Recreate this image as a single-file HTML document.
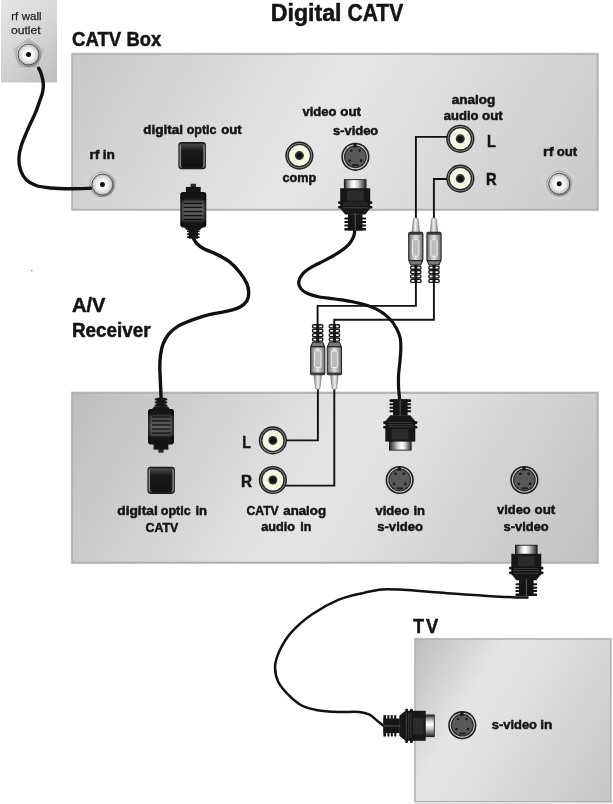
<!DOCTYPE html>
<html><head><meta charset="utf-8">
<style>
html,body{margin:0;padding:0;background:#fff;}
body{width:613px;height:804px;overflow:hidden;}
svg{display:block;will-change:transform;}
text{font-family:"Liberation Sans",sans-serif;fill:#141414;}
.b{font-weight:bold;stroke:#141414;stroke-width:0.5px;stroke-linejoin:round;}
.r text,text.r{fill:#222;stroke:#222;stroke-width:0.25px;}
</style></head><body>
<svg width="613" height="804" viewBox="0 0 613 804">
<defs>
<linearGradient id="gBox" gradientUnits="userSpaceOnUse" x1="71" y1="53" x2="533.5" y2="320">
<stop offset="0" stop-color="#c7c7c7"/><stop offset="0.44" stop-color="#e5e5e5"/><stop offset="0.5" stop-color="#e5e5e5"/><stop offset="1" stop-color="#c8c8c8"/>
</linearGradient>
<linearGradient id="gBox2" gradientUnits="userSpaceOnUse" x1="71" y1="392" x2="533.5" y2="659">
<stop offset="0" stop-color="#bdbdbd"/><stop offset="0.46" stop-color="#e4e4e4"/><stop offset="0.54" stop-color="#e4e4e4"/><stop offset="1" stop-color="#c1c1c1"/>
</linearGradient>
<linearGradient id="gTV" gradientUnits="userSpaceOnUse" x1="414" y1="638" x2="630.8" y2="768.3">
<stop offset="0" stop-color="#bcbcbc"/><stop offset="0.31" stop-color="#e4e4e4"/><stop offset="0.39" stop-color="#e4e4e4"/><stop offset="1" stop-color="#c6c6c6"/>
</linearGradient>
<linearGradient id="gWall" gradientUnits="userSpaceOnUse" x1="1" y1="0" x2="62" y2="72">
<stop offset="0" stop-color="#e6e6e6"/><stop offset="0.5" stop-color="#d6d6d6"/><stop offset="1" stop-color="#c0c0c0"/>
</linearGradient>
<linearGradient id="gMetalH" x1="0" y1="0" x2="1" y2="0">
<stop offset="0" stop-color="#2e2e2e"/><stop offset="0.14" stop-color="#8a8a8a"/><stop offset="0.32" stop-color="#e8e8e8"/><stop offset="0.45" stop-color="#ffffff"/><stop offset="0.62" stop-color="#d0d0d0"/><stop offset="0.85" stop-color="#6c6c6c"/><stop offset="1" stop-color="#2a2a2a"/>
</linearGradient>
<linearGradient id="gRcaBody" x1="0" y1="0" x2="1" y2="0">
<stop offset="0" stop-color="#6a6a6a"/><stop offset="0.22" stop-color="#a8a8a8"/><stop offset="0.5" stop-color="#e2e2e2"/><stop offset="0.78" stop-color="#a4a4a4"/><stop offset="1" stop-color="#666"/>
</linearGradient>
<linearGradient id="gRcaTip" x1="0" y1="0" x2="1" y2="0">
<stop offset="0" stop-color="#8a8a8a"/><stop offset="0.45" stop-color="#f2f2f2"/><stop offset="1" stop-color="#8a8a8a"/>
</linearGradient>
<radialGradient id="gRf" cx="0.5" cy="0.5" r="0.5">
<stop offset="0" stop-color="#ffffff"/><stop offset="0.5" stop-color="#f6f6f6"/><stop offset="0.82" stop-color="#d4d4d4"/><stop offset="1" stop-color="#ababab"/>
</radialGradient>
<linearGradient id="gRfRing" x1="0.15" y1="0.1" x2="0.85" y2="0.9">
<stop offset="0" stop-color="#ebebeb"/><stop offset="0.45" stop-color="#b4b4b4"/><stop offset="1" stop-color="#868686"/>
</linearGradient>
<linearGradient id="gOJh" x1="0" y1="0" x2="1" y2="0">
<stop offset="0" stop-color="#b4b4b4"/><stop offset="0.06" stop-color="#5a5a5a"/><stop offset="0.12" stop-color="#1c1c1c"/><stop offset="0.88" stop-color="#1c1c1c"/><stop offset="0.94" stop-color="#5a5a5a"/><stop offset="1" stop-color="#b4b4b4"/>
</linearGradient>
<linearGradient id="gOJv" x1="0" y1="0" x2="0" y2="1">
<stop offset="0" stop-color="#4a4a4a"/><stop offset="0.12" stop-color="#383838"/><stop offset="0.3" stop-color="#1a1a1a"/><stop offset="1" stop-color="#121212"/>
</linearGradient>
<filter id="blur2" x="-20%" y="-20%" width="140%" height="140%"><feGaussianBlur stdDeviation="1.1"/></filter>
<filter id="blur1" x="-20%" y="-20%" width="140%" height="140%"><feGaussianBlur stdDeviation="0.7"/></filter>
<linearGradient id="gOptV" x1="0" y1="0" x2="0" y2="1">
<stop offset="0" stop-color="#141414"/><stop offset="0.2" stop-color="#1b1b1b"/><stop offset="0.27" stop-color="#505050"/><stop offset="0.5" stop-color="#6c6c6c"/><stop offset="0.78" stop-color="#525252"/><stop offset="0.86" stop-color="#1c1c1c"/><stop offset="1" stop-color="#141414"/>
</linearGradient>
<linearGradient id="gOptH" x1="0" y1="0" x2="1" y2="0">
<stop offset="0" stop-color="#000" stop-opacity="0.75"/><stop offset="0.14" stop-color="#000" stop-opacity="0.1"/><stop offset="0.86" stop-color="#000" stop-opacity="0.1"/><stop offset="1" stop-color="#000" stop-opacity="0.75"/>
</linearGradient>

<pattern id="pDots" width="1.6" height="1.6" patternUnits="userSpaceOnUse">
<rect width="1.6" height="1.6" fill="#dcdcdc"/><rect width="0.8" height="0.8" fill="#9c9c9c"/><rect x="0.8" y="0.8" width="0.8" height="0.8" fill="#9c9c9c"/>
</pattern>
<!-- RCA jack, centred 0,0 r=14 -->
<g id="rcaJack">
<circle r="14.1" fill="#222"/>
<circle r="12.7" fill="#909090"/>
<circle r="11.9" fill="#2a2a2a"/>
<circle r="10.5" fill="#f4f6e2"/>
<circle r="4.5" fill="#363636"/>
<circle r="2.9" fill="#111"/>
</g>
<!-- S-video jack, centred 0,0 r=14.5 -->
<g id="svJack">
<circle r="14.1" fill="#202020"/>
<circle r="12.5" fill="#cecece"/>
<circle r="11.4" fill="#2a2a2a"/>
<circle r="10.3" fill="#595959"/>
<rect x="-2.1" y="-13.4" width="3.4" height="4.2" fill="#1c1c1c"/>
<circle cx="-4.1" cy="-6.2" r="1.35" fill="#1c1c1c"/><circle cx="4.1" cy="-6.2" r="1.35" fill="#1c1c1c"/>
<circle cx="-5.7" cy="3.9" r="1.35" fill="#1c1c1c"/><circle cx="5.7" cy="3.9" r="1.35" fill="#1c1c1c"/>
<rect x="-3.2" y="7.4" width="6.6" height="1.9" fill="#1e1e1e"/>
<rect x="-7.6" y="7.4" width="1.6" height="1.4" fill="#2a2a2a"/><rect x="6" y="7.6" width="1.6" height="1.4" fill="#2a2a2a"/>
</g>
<!-- RF connector -->
<g id="rfCore">
<circle r="12.4" fill="url(#gRfRing)"/>
<circle r="12.4" fill="none" stroke="#8e8e8e" stroke-width="0.6"/>
<circle r="10.5" fill="url(#gRf)" stroke="#4a4a4a" stroke-width="0.9"/>
<circle r="2.5" fill="#111"/>
</g>
<g id="rfConn">
<polygon points="0,-17 16.2,-5.3 10,13.8 -10,13.8 -16.2,-5.3" fill="#b2b2b2" fill-opacity="0.7" stroke="#d8d8d8" stroke-opacity="0.6" stroke-width="1.2" stroke-linejoin="round" filter="url(#blur1)"/>
<use href="#rfCore"/>
</g>
<g id="rfConnBox">
<polygon points="0,-17 16.2,-5.3 10,13.8 -10,13.8 -16.2,-5.3" fill="#bcbcbc" fill-opacity="0.28" stroke="#e8e8e8" stroke-opacity="0.5" stroke-width="1.2" stroke-linejoin="round" filter="url(#blur2)"/>
<use href="#rfCore"/>
</g>
<!-- Optical jack 27.5 square top-left 0,0 -->
<g id="optJack">
<rect x="0" y="0" width="27.5" height="27.2" rx="3.3" fill="#1b1b1b"/>
<rect x="1.3" y="1.3" width="24.9" height="24.6" rx="2.6" fill="url(#gOJh)"/>
<rect x="2.7" y="1.6" width="22.1" height="23.6" rx="1.8" fill="url(#gOJv)"/>
</g>
<!-- RCA plug pointing up: tip top at y=0, centred x=0; length 65.1 -->
<g id="rcaPlug">
<path d="M-2.3,1.6 Q-2.3,0 0,0 Q2.3,0 2.3,1.6 L3.9,15 L-3.9,15 Z" fill="url(#gRcaTip)" stroke="#6a6a6a" stroke-width="0.6"/>
<rect x="-7.1" y="14.6" width="14.2" height="28.2" rx="1.3" fill="url(#gRcaBody)" stroke="#2a2a2a" stroke-width="1.1"/>
<rect x="-6.8" y="14.6" width="13.6" height="2.4" rx="0.8" fill="#3a3a3a"/>
<rect x="-3.2" y="21.9" width="6.3" height="16.5" rx="1.6" fill="url(#pDots)" stroke="#f2f2f2" stroke-width="0.9"/>
<path d="M-6.9,42.8 L6.9,42.8 L4.9,47.2 L-4.9,47.2 Z" fill="#7c7c7c" stroke="#2a2a2a" stroke-width="1.1" stroke-linejoin="round"/>
<g fill="#fafafa" stroke="#161616" stroke-width="1.35">
<rect x="-5.2" y="48.3" width="10.4" height="3.1" rx="1.5"/>
<rect x="-5.2" y="52.7" width="10.4" height="3.1" rx="1.5"/>
<rect x="-5.2" y="57.1" width="10.4" height="3.1" rx="1.5"/>
<rect x="-5.2" y="61.5" width="10.4" height="3.1" rx="1.5"/>
</g>
<rect x="-1.5" y="47" width="3" height="18.1" fill="#161616"/>
</g>
<!-- S-video plug pointing up: metal tip top at y=0, centred x=0, length 51.3 -->
<g id="svPlug">
<rect x="-11.3" y="0" width="22.6" height="10" fill="#1c1c1c"/>
<rect x="-10.5" y="0.9" width="21" height="9" fill="url(#gMetalH)"/>
<rect x="-15" y="9" width="30" height="20.5" fill="#171717"/>
<rect x="-8.2" y="11.2" width="16.8" height="10.4" fill="#2b2b2b"/>
<rect x="-17.1" y="22" width="34.2" height="2.7" rx="0.8" fill="#141414"/>
<rect x="-17.1" y="26.7" width="34.2" height="2.7" rx="0.8" fill="#141414"/>
<rect x="-12.5" y="23.4" width="25" height="0.7" fill="#4a4a4a"/>
<rect x="-12.5" y="25.5" width="25" height="0.7" fill="#4a4a4a"/>
<rect x="-12.5" y="28" width="25" height="0.7" fill="#4a4a4a"/>
<rect x="-9" y="30.3" width="18" height="0.7" fill="#444"/>
<path d="M-15,29.3 L15,29.3 L10,35.4 L-10,35.4 Z" fill="#171717"/>
<rect x="-7.3" y="35" width="14.6" height="16.3" fill="#151515"/>
<g fill="#151515">
<rect x="-10.8" y="38.4" width="21.6" height="2" rx="0.6"/>
<rect x="-10.8" y="41.9" width="21.6" height="2" rx="0.6"/>
<rect x="-10.8" y="45.3" width="21.6" height="2" rx="0.6"/>
<rect x="-10.8" y="48.7" width="21.6" height="2.6" rx="0.6"/>
</g>
<rect x="-0.5" y="34" width="1.2" height="17.3" fill="#4d4d4d"/>
</g>
<!-- Optical plug pointing up: nub top at y=0 centred x=0, length 54.9 -->
<g id="optPlug">
<rect x="-2.7" y="0" width="5.4" height="3.8" rx="0.6" fill="#2c2c2c"/>
<rect x="-7.4" y="3.1" width="14.8" height="6" fill="#161616"/>
<rect x="-12.9" y="8.3" width="25.8" height="35.3" rx="2.8" fill="url(#gOptV)"/>
<rect x="-12.9" y="8.3" width="25.8" height="35.3" rx="2.8" fill="url(#gOptH)"/>
<g fill="#0e0e0e">
<rect x="-9.4" y="19" width="18.4" height="1.25"/>
<rect x="-9.4" y="23" width="18.4" height="1.25"/>
<rect x="-9.4" y="27.1" width="18.4" height="1.25"/>
<rect x="-9.4" y="31.2" width="18.4" height="1.25"/>
<rect x="-9.4" y="35.1" width="18.4" height="1.25"/>
</g>
<path d="M-9.5,43.2 L9.5,43.2 L6.4,46.4 L-6.4,46.4 Z" fill="#161616"/>
<rect x="-4.6" y="46" width="9.2" height="8.9" fill="#161616"/>
<g fill="#161616">
<rect x="-6.3" y="46.6" width="12.6" height="1.7" rx="0.5"/>
<rect x="-6.3" y="49.5" width="12.6" height="1.7" rx="0.5"/>
<rect x="-6.3" y="52.4" width="12.6" height="1.9" rx="0.5"/>
</g>
</g>
</defs>

<rect width="613" height="804" fill="#fff"/>

<!-- wall outlet -->
<rect x="1" y="0" width="56" height="82.5" fill="url(#gWall)"/>
<!-- CATV box -->
<rect x="70.9" y="52.6" width="528" height="158.4" fill="#d3d3d3"/>
<rect x="71.5" y="53.3" width="526.9" height="157.2" fill="#b3b3b3"/>
<rect x="73" y="55" width="523.6" height="153.8" fill="url(#gBox)"/>
<!-- Receiver box -->
<rect x="70.8" y="391.5" width="528.1" height="172.5" fill="#d0d0d0"/>
<rect x="71.4" y="392.2" width="527" height="171.3" fill="#b0b0b0"/>
<rect x="72.9" y="393.9" width="523.9" height="167.8" fill="url(#gBox2)"/>
<!-- TV box -->
<rect x="413.9" y="637.9" width="197.9" height="164.6" fill="#cfcfcf"/>
<rect x="414.7" y="638.5" width="196.6" height="163.6" fill="#adadad"/>
<rect x="415.8" y="639.7" width="194.4" height="161.3" fill="url(#gTV)"/>
<rect x="414.5" y="802.5" width="197.3" height="1.5" fill="#e6e6e6"/>

<!-- tiny dot -->
<rect x="31" y="270" width="1.4" height="1.4" fill="#999"/>

<!-- TEXT -->
<g class="b">
<text x="270.70" y="20.7" font-size="23.0" textLength="70.86" lengthAdjust="spacingAndGlyphs">Digital</text>
<text x="347.49" y="20.7" font-size="23.0" textLength="55.76" lengthAdjust="spacingAndGlyphs">CATV</text>
<text x="71.99" y="45.7" font-size="19.9" textLength="49.26" lengthAdjust="spacingAndGlyphs">CATV</text>
<text x="126.48" y="45.7" font-size="19.9" textLength="34.77" lengthAdjust="spacingAndGlyphs">Box</text>
<text x="72.00" y="311.8" font-size="19.6" textLength="33.50" lengthAdjust="spacingAndGlyphs">A/V</text>
<text x="71.98" y="336.7" font-size="19.4" textLength="78.52" lengthAdjust="spacingAndGlyphs">Receiver</text>
<text x="413.25" y="632.8" font-size="19.7" textLength="10.75" lengthAdjust="spacingAndGlyphs">T</text>
<text x="426.00" y="632.8" font-size="19.7" textLength="12.26" lengthAdjust="spacingAndGlyphs">V</text>
<text x="143.24" y="134.2" font-size="12.8" textLength="39.78" lengthAdjust="spacingAndGlyphs">digital</text>
<text x="186.74" y="134.2" font-size="12.8" textLength="29.76" lengthAdjust="spacingAndGlyphs">optic</text>
<text x="221.25" y="134.2" font-size="12.8" textLength="20.50" lengthAdjust="spacingAndGlyphs">out</text>
<text x="89.47" y="159.1" font-size="12.8" textLength="10.02" lengthAdjust="spacingAndGlyphs">rf</text>
<text x="102.67" y="159.1" font-size="12.8" textLength="12.17" lengthAdjust="spacingAndGlyphs">in</text>
<text x="302.50" y="116.2" font-size="12.8" textLength="34.00" lengthAdjust="spacingAndGlyphs">video</text>
<text x="340.25" y="116.2" font-size="12.8" textLength="20.75" lengthAdjust="spacingAndGlyphs">out</text>
<text x="333.00" y="135.1" font-size="12.8" textLength="45.26" lengthAdjust="spacingAndGlyphs">s-video</text>
<text x="282.50" y="181.8" font-size="12.8" textLength="33.76" lengthAdjust="spacingAndGlyphs">comp</text>
<text x="451.75" y="104" font-size="12.8" textLength="43.52" lengthAdjust="spacingAndGlyphs">analog</text>
<text x="443.75" y="120.2" font-size="12.8" textLength="34.75" lengthAdjust="spacingAndGlyphs">audio</text>
<text x="482.00" y="120.2" font-size="12.8" textLength="20.75" lengthAdjust="spacingAndGlyphs">out</text>
<text x="486.92" y="147" font-size="16.6" textLength="8.86" lengthAdjust="spacingAndGlyphs">L</text>
<text x="485.93" y="184.8" font-size="16.6" textLength="10.59" lengthAdjust="spacingAndGlyphs">R</text>
<text x="542.98" y="156.1" font-size="12.8" textLength="10.52" lengthAdjust="spacingAndGlyphs">rf</text>
<text x="556.75" y="156.1" font-size="12.8" textLength="20.50" lengthAdjust="spacingAndGlyphs">out</text>
<text x="117.24" y="514.6" font-size="12.8" textLength="40.53" lengthAdjust="spacingAndGlyphs">digital</text>
<text x="160.75" y="514.6" font-size="12.8" textLength="30.01" lengthAdjust="spacingAndGlyphs">optic</text>
<text x="195.41" y="514.6" font-size="12.8" textLength="11.64" lengthAdjust="spacingAndGlyphs">in</text>
<text x="145.50" y="531.8" font-size="12.8" textLength="32.75" lengthAdjust="spacingAndGlyphs">CATV</text>
<text x="242.18" y="448.2" font-size="15.6" textLength="8.62" lengthAdjust="spacingAndGlyphs">L</text>
<text x="240.94" y="486.9" font-size="15.6" textLength="11.06" lengthAdjust="spacingAndGlyphs">R</text>
<text x="246.50" y="514.5" font-size="12.8" textLength="32.25" lengthAdjust="spacingAndGlyphs">CATV</text>
<text x="283.25" y="514.5" font-size="12.8" textLength="42.77" lengthAdjust="spacingAndGlyphs">analog</text>
<text x="261.25" y="530.9" font-size="12.8" textLength="33.76" lengthAdjust="spacingAndGlyphs">audio</text>
<text x="300.17" y="530.9" font-size="12.8" textLength="11.15" lengthAdjust="spacingAndGlyphs">in</text>
<text x="375.50" y="514.7" font-size="12.8" textLength="34.00" lengthAdjust="spacingAndGlyphs">video</text>
<text x="413.44" y="514.7" font-size="12.8" textLength="11.61" lengthAdjust="spacingAndGlyphs">in</text>
<text x="377.25" y="531.2" font-size="12.8" textLength="45.76" lengthAdjust="spacingAndGlyphs">s-video</text>
<text x="497.00" y="514.4" font-size="12.8" textLength="33.75" lengthAdjust="spacingAndGlyphs">video</text>
<text x="534.49" y="514.4" font-size="12.8" textLength="20.75" lengthAdjust="spacingAndGlyphs">out</text>
<text x="503.50" y="531.1" font-size="12.8" textLength="45.26" lengthAdjust="spacingAndGlyphs">s-video</text>
<text x="491.75" y="729" font-size="12.8" textLength="45.26" lengthAdjust="spacingAndGlyphs">s-video</text>
<text x="540.18" y="729" font-size="12.8" textLength="12.14" lengthAdjust="spacingAndGlyphs">in</text>
</g>
<g class="r">
<text x="11.18" y="19.7" font-size="11.8" textLength="6.82" lengthAdjust="spacingAndGlyphs">rf</text>
<text x="21.75" y="19.7" font-size="11.8" textLength="19.77" lengthAdjust="spacingAndGlyphs">wall</text>
<text x="10.99" y="34.0" font-size="11.8" textLength="29.51" lengthAdjust="spacingAndGlyphs">outlet</text>
</g>

<!-- JACKS -->
<use href="#rfConn" transform="translate(28.5,54.5)"/>
<use href="#rfConnBox" transform="translate(102.4,184.6)"/>
<use href="#rfConnBox" transform="translate(559.2,183.8)"/>
<use href="#optJack" transform="translate(178.4,142.1)"/>
<use href="#optJack" transform="translate(147.4,466.7)"/>
<use href="#rcaJack" transform="translate(299.4,155.6)"/>
<use href="#svJack" transform="translate(355.4,156.8)"/>
<use href="#rcaJack" transform="translate(460.3,138.8)"/>
<use href="#rcaJack" transform="translate(460.3,178.6)"/>
<use href="#rcaJack" transform="translate(272.9,440.4)"/>
<use href="#rcaJack" transform="translate(272.9,480)"/>
<use href="#svJack" transform="translate(399.7,480)"/>
<use href="#svJack" transform="translate(524.4,480)"/>
<use href="#svJack" transform="translate(462.3,725.2)"/>

<!-- CABLES -->
<g fill="none" stroke="#111" stroke-linecap="round" stroke-linejoin="miter">
<!-- coax -->
<path d="M38.6,68.2 C38.9,68.8 39.9,70.0 40.6,72.0 C41.3,74.0 42.3,77.5 42.8,80.0 C43.2,82.5 43.4,84.8 43.3,87.0 C43.2,89.2 42.9,90.8 42.4,93.0 C41.9,95.2 41.1,97.0 40.0,100.0 C38.9,103.0 38.0,106.4 36.0,111.3 C34.0,116.2 30.2,123.6 27.8,129.3 C25.4,135.0 22.8,140.7 21.3,145.6 C19.8,150.5 19.0,154.5 18.9,158.6 C18.8,162.7 19.3,166.5 20.5,170.0 C21.7,173.5 23.6,177.2 26.2,179.8 C28.8,182.4 31.9,184.1 36.0,185.5 C40.1,186.9 45.0,187.4 50.7,188.0 C56.4,188.6 63.7,188.8 70.3,188.8 C76.9,188.9 87.1,188.4 90.5,188.3" stroke-width="3.4"/>
<!-- optical -->
<path d="M193.6,238.6 C194.1,239.4 195.0,241.8 196.7,243.5 C198.4,245.2 200.5,247.0 203.8,248.8 C207.1,250.6 212.2,252.1 216.4,254.2 C220.6,256.3 225.1,258.4 229.0,261.4 C232.9,264.4 236.7,268.5 239.7,272.2 C242.7,275.9 245.4,280.4 246.9,283.8 C248.4,287.2 248.7,290.0 248.7,292.8 C248.7,295.6 248.4,298.5 246.9,300.9 C245.4,303.3 243.0,305.5 239.7,307.2 C236.4,308.9 232.3,309.9 227.2,311.1 C222.1,312.4 214.9,313.3 209.2,314.7 C203.5,316.1 198.2,317.8 193.1,319.7 C188.0,321.6 182.5,323.5 178.5,325.9 C174.5,328.3 171.5,330.8 168.9,333.9 C166.3,336.9 164.4,340.6 163.0,344.2 C161.6,347.8 161.0,351.4 160.5,355.2 C160.0,359.0 159.8,362.6 159.8,367.0 C159.8,371.4 160.2,376.4 160.4,381.7 C160.6,386.9 161.0,395.7 161.1,398.5" stroke-width="3.4"/>
<!-- s-video 1 -->
<path d="M354.8,230.0 C354.6,231.1 354.6,234.3 353.6,236.7 C352.6,239.1 351.1,242.0 348.7,244.6 C346.2,247.2 342.8,249.8 338.9,252.4 C335.0,255.0 329.8,257.8 325.2,260.2 C320.6,262.6 315.2,264.8 311.5,267.1 C307.8,269.4 304.8,271.4 302.7,273.9 C300.6,276.3 299.1,279.4 298.8,281.8 C298.5,284.2 299.3,286.7 300.8,288.6 C302.3,290.6 304.5,292.1 307.6,293.5 C310.7,294.9 314.8,296.1 319.4,297.0 C324.0,297.9 329.5,298.2 335.0,299.0 C340.5,299.8 347.1,300.6 352.6,301.7 C358.2,302.8 363.7,304.1 368.3,305.7 C372.9,307.3 376.5,308.9 380.1,311.1 C383.7,313.3 387.1,316.1 389.9,319.0 C392.7,321.9 395.0,325.6 396.7,328.8 C398.4,332.0 399.5,334.7 400.2,338.0 C400.9,341.3 400.9,344.7 400.8,348.7 C400.8,352.7 400.3,357.4 399.9,361.8 C399.5,366.2 398.8,370.5 398.6,374.8 C398.4,379.1 398.4,383.7 398.6,387.9 C398.8,392.1 399.6,398.0 399.8,400.0" stroke-width="3.2"/>
<!-- s-video 2 -->
<path d="M527.5,597.6 C525.6,597.6 519.9,597.5 516.0,597.4 C512.1,597.3 510.7,597.2 504.4,596.9 C498.1,596.5 487.0,595.9 478.3,595.3 C469.6,594.7 460.9,594.1 452.2,593.5 C443.5,592.9 434.7,592.0 426.0,591.4 C417.3,590.8 407.3,589.9 400.0,589.6 C392.7,589.3 387.9,588.9 382.0,589.4 C376.1,589.9 371.7,591.0 364.4,592.7 C357.1,594.4 347.0,596.2 338.3,599.8 C329.6,603.4 320.0,608.8 312.2,614.2 C304.4,619.6 296.7,626.3 291.3,632.4 C285.9,638.5 282.3,645.0 279.6,650.7 C276.9,656.4 275.3,661.2 275.1,666.4 C274.9,671.6 276.0,677.2 278.3,682.0 C280.6,686.8 284.8,691.2 288.7,695.1 C292.6,699.0 297.0,703.0 301.8,705.5 C306.6,708.0 311.3,709.1 317.4,710.2 C323.5,711.3 331.3,711.7 338.3,712.0 C345.3,712.3 354.0,711.5 359.2,712.0 C364.4,712.5 366.8,713.4 369.6,714.7 C372.4,716.0 373.9,718.0 376.2,719.9 C378.5,721.8 382.3,724.8 383.5,725.8" stroke-width="2.5"/>
<!-- RCA wires -->
<g stroke-width="1.9" stroke-linecap="butt">
<path d="M447,136.9 L415.9,136.9 L415.9,219"/>
<path d="M447,179 L433.9,179 L433.9,219"/>
<path d="M415.9,282 L415.9,305.9 L317.6,305.9 L317.6,325"/>
<path d="M433.9,282 L433.9,319.7 L334.3,319.7 L334.3,325"/>
<path d="M317.9,388 L317.9,440.4 L286,440.4"/>
<path d="M334.3,388 L334.3,485.6 L284.5,485.6"/>
</g>
</g>

<!-- PLUGS -->
<use href="#rcaPlug" transform="translate(415.8,217.8)"/>
<use href="#rcaPlug" transform="translate(434,217.8)"/>
<use href="#rcaPlug" transform="translate(317.7,389.4) rotate(180)"/>
<use href="#rcaPlug" transform="translate(334.4,389.4) rotate(180)"/>
<use href="#svPlug" transform="translate(355.2,179.2)"/>
<use href="#svPlug" transform="translate(400.3,450.6) rotate(180)"/>
<use href="#svPlug" transform="translate(526.3,544.8)"/>
<use href="#svPlug" transform="translate(434.7,725.8) rotate(90)"/>
<use href="#optPlug" transform="translate(193.3,183.8)"/>
<use href="#optPlug" transform="translate(161,452.7) rotate(180)"/>
</svg>
</body></html>
